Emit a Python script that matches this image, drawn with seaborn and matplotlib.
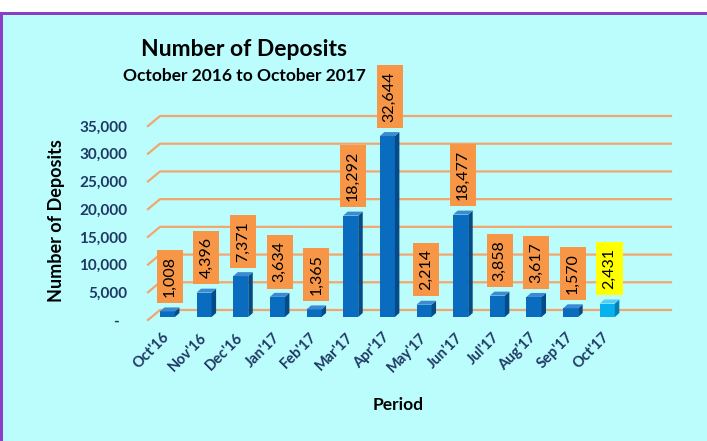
import matplotlib
matplotlib.use('Agg')
import matplotlib.pyplot as plt
import seaborn as sns
from matplotlib.patches import Rectangle, Polygon

# dados
periodos = ["Oct'16", "Nov'16", "Dec'16", "Jan'17", "Feb'17", "Mar'17", "Apr'17",
            "May'17", "Jun'17", "Jul'17", "Aug'17", "Sep'17", "Oct'17"]
depositos = [1008, 4396, 7371, 3634, 1365, 18292, 32644, 2214, 18477, 3858, 3617, 1570, 2431]
y_ticks = [0, 5000, 10000, 15000, 20000, 25000, 30000, 35000]

# cores
fundo = '#BBFDFD'
roxo = '#8A3FC6'
grade = '#F2A66E'
azul = ('#0A6CBE', '#044B87', '#3C8BD2')
azul_claro = ('#07B0EE', '#0381B2', '#55CCF6')
laranja = '#F79646'
amarelo = '#FFFF00'
texto_eixo = '#1F3864'

plt.rcParams['font.family'] = ['Lato', 'DejaVu Sans']

W, H = 707, 441
fig = plt.figure(figsize=(W / 100, H / 100), dpi=100, facecolor='white')

# fundo e moldura
fig.add_artist(Rectangle((0, 0), 1, (H - 14) / H, transform=fig.transFigure,
                         facecolor=fundo, edgecolor='none', zorder=-10))
fig.add_artist(Rectangle((0, (H - 15) / H), 1, 3 / H, transform=fig.transFigure,
                         facecolor=roxo, edgecolor='none', zorder=-9))
fig.add_artist(Rectangle((0, 0), 2.5 / W, (H - 13) / H, transform=fig.transFigure,
                         facecolor=roxo, edgecolor='none', zorder=-9))

# eixo: plano frontal de x=148 a 659 px, y=0 em 320 px
ax = fig.add_axes([148 / W, 121 / H, 511 / W, 260.5 / H])
ax.set_facecolor('none')

cores = [azul[0]] * (len(periodos) - 1) + [azul_claro[0]]
sns.barplot(x=periodos, y=depositos, hue=periodos, palette=cores, legend=False,
            width=0.41, saturation=1, ax=ax, zorder=3)
barras = list(ax.patches)

ax.set_xlim(-0.53, 13.41)
ax.set_ylim(0, 47000)

# conversão px -> dados
px_x = 1 / 36.67
px_y = 47000 / 260.5

# grade em perspectiva
dxg, dyg = 12 * px_x, 10 * px_y
x0, x1 = ax.get_xlim()
for v in y_ticks:
    ax.plot([x0, x0 + dxg, x1 + dxg], [v, v + dyg, v + dyg], color=grade,
            lw=1.6, clip_on=False, zorder=1)

# barras 3D
dxb, dyb = 4.5 * px_x, 4 * px_y
desloc = 3 * px_y
ultimo = len(barras) - 1
for i, p in enumerate(barras):
    tons = azul_claro if i == ultimo else azul
    p.set_y(desloc)
    xa = p.get_x()
    xb = xa + p.get_width()
    yb = desloc
    yt = desloc + p.get_height()
    ax.add_patch(Polygon([(xb, yb), (xb + dxb, yb + dyb), (xb + dxb, yt + dyb), (xb, yt)],
                         closed=True, facecolor=tons[1], edgecolor='none', zorder=3))
    ax.add_patch(Polygon([(xa, yt), (xb, yt), (xb + dxb, yt + dyb), (xa + dxb, yt + dyb)],
                         closed=True, facecolor=tons[2], edgecolor='none', zorder=3))

    cor_caixa = amarelo if i == ultimo else laranja
    ax.annotate(f'{depositos[i]:,}', xy=(p.get_x() + p.get_width() / 2 + dxb / 2, yt + dyb),
                xytext=(0, 7.5), textcoords='offset points', rotation=90,
                ha='center', va='bottom', fontsize=11.5, color='black',
                bbox=dict(boxstyle='square,pad=0.38', fc=cor_caixa, ec='none'),
                zorder=5)

# eixos
for s in ax.spines.values():
    s.set_visible(False)
ax.set_yticks(y_ticks)
ax.set_yticklabels(['-  '] + [f'{v:,}' for v in y_ticks[1:]])
ax.tick_params(axis='y', length=0, pad=15, labelsize=11, labelcolor=texto_eixo)
ax.tick_params(axis='x', length=0, pad=11, labelsize=10.5, labelcolor=texto_eixo)
for t in ax.get_yticklabels():
    t.set_fontweight('bold')
for t in ax.get_xticklabels():
    t.set_rotation(45)
    t.set_ha('right')
    t.set_va('center')
    t.set_rotation_mode('anchor')
    t.set_fontweight('bold')
ax.set_xlabel('')
ax.set_ylabel('')

# títulos
fig.text(244 / W, 1 - 49 / H, 'Number of Deposits', ha='center', va='center',
         fontsize=16.5, fontweight='bold')
fig.text(244 / W, 1 - 76 / H, 'October 2016 to October 2017', ha='center', va='center',
         fontsize=12.5, fontweight='bold')
fig.text(57 / W, 1 - 221 / H, 'Number of Deposits', ha='center', va='center',
         rotation=90, fontsize=13, fontweight='bold')
fig.text(398 / W, 1 - 405 / H, 'Period', ha='center', va='center',
         fontsize=12.5, fontweight='bold')

fig.savefig('out.png', dpi=100, facecolor='white')
